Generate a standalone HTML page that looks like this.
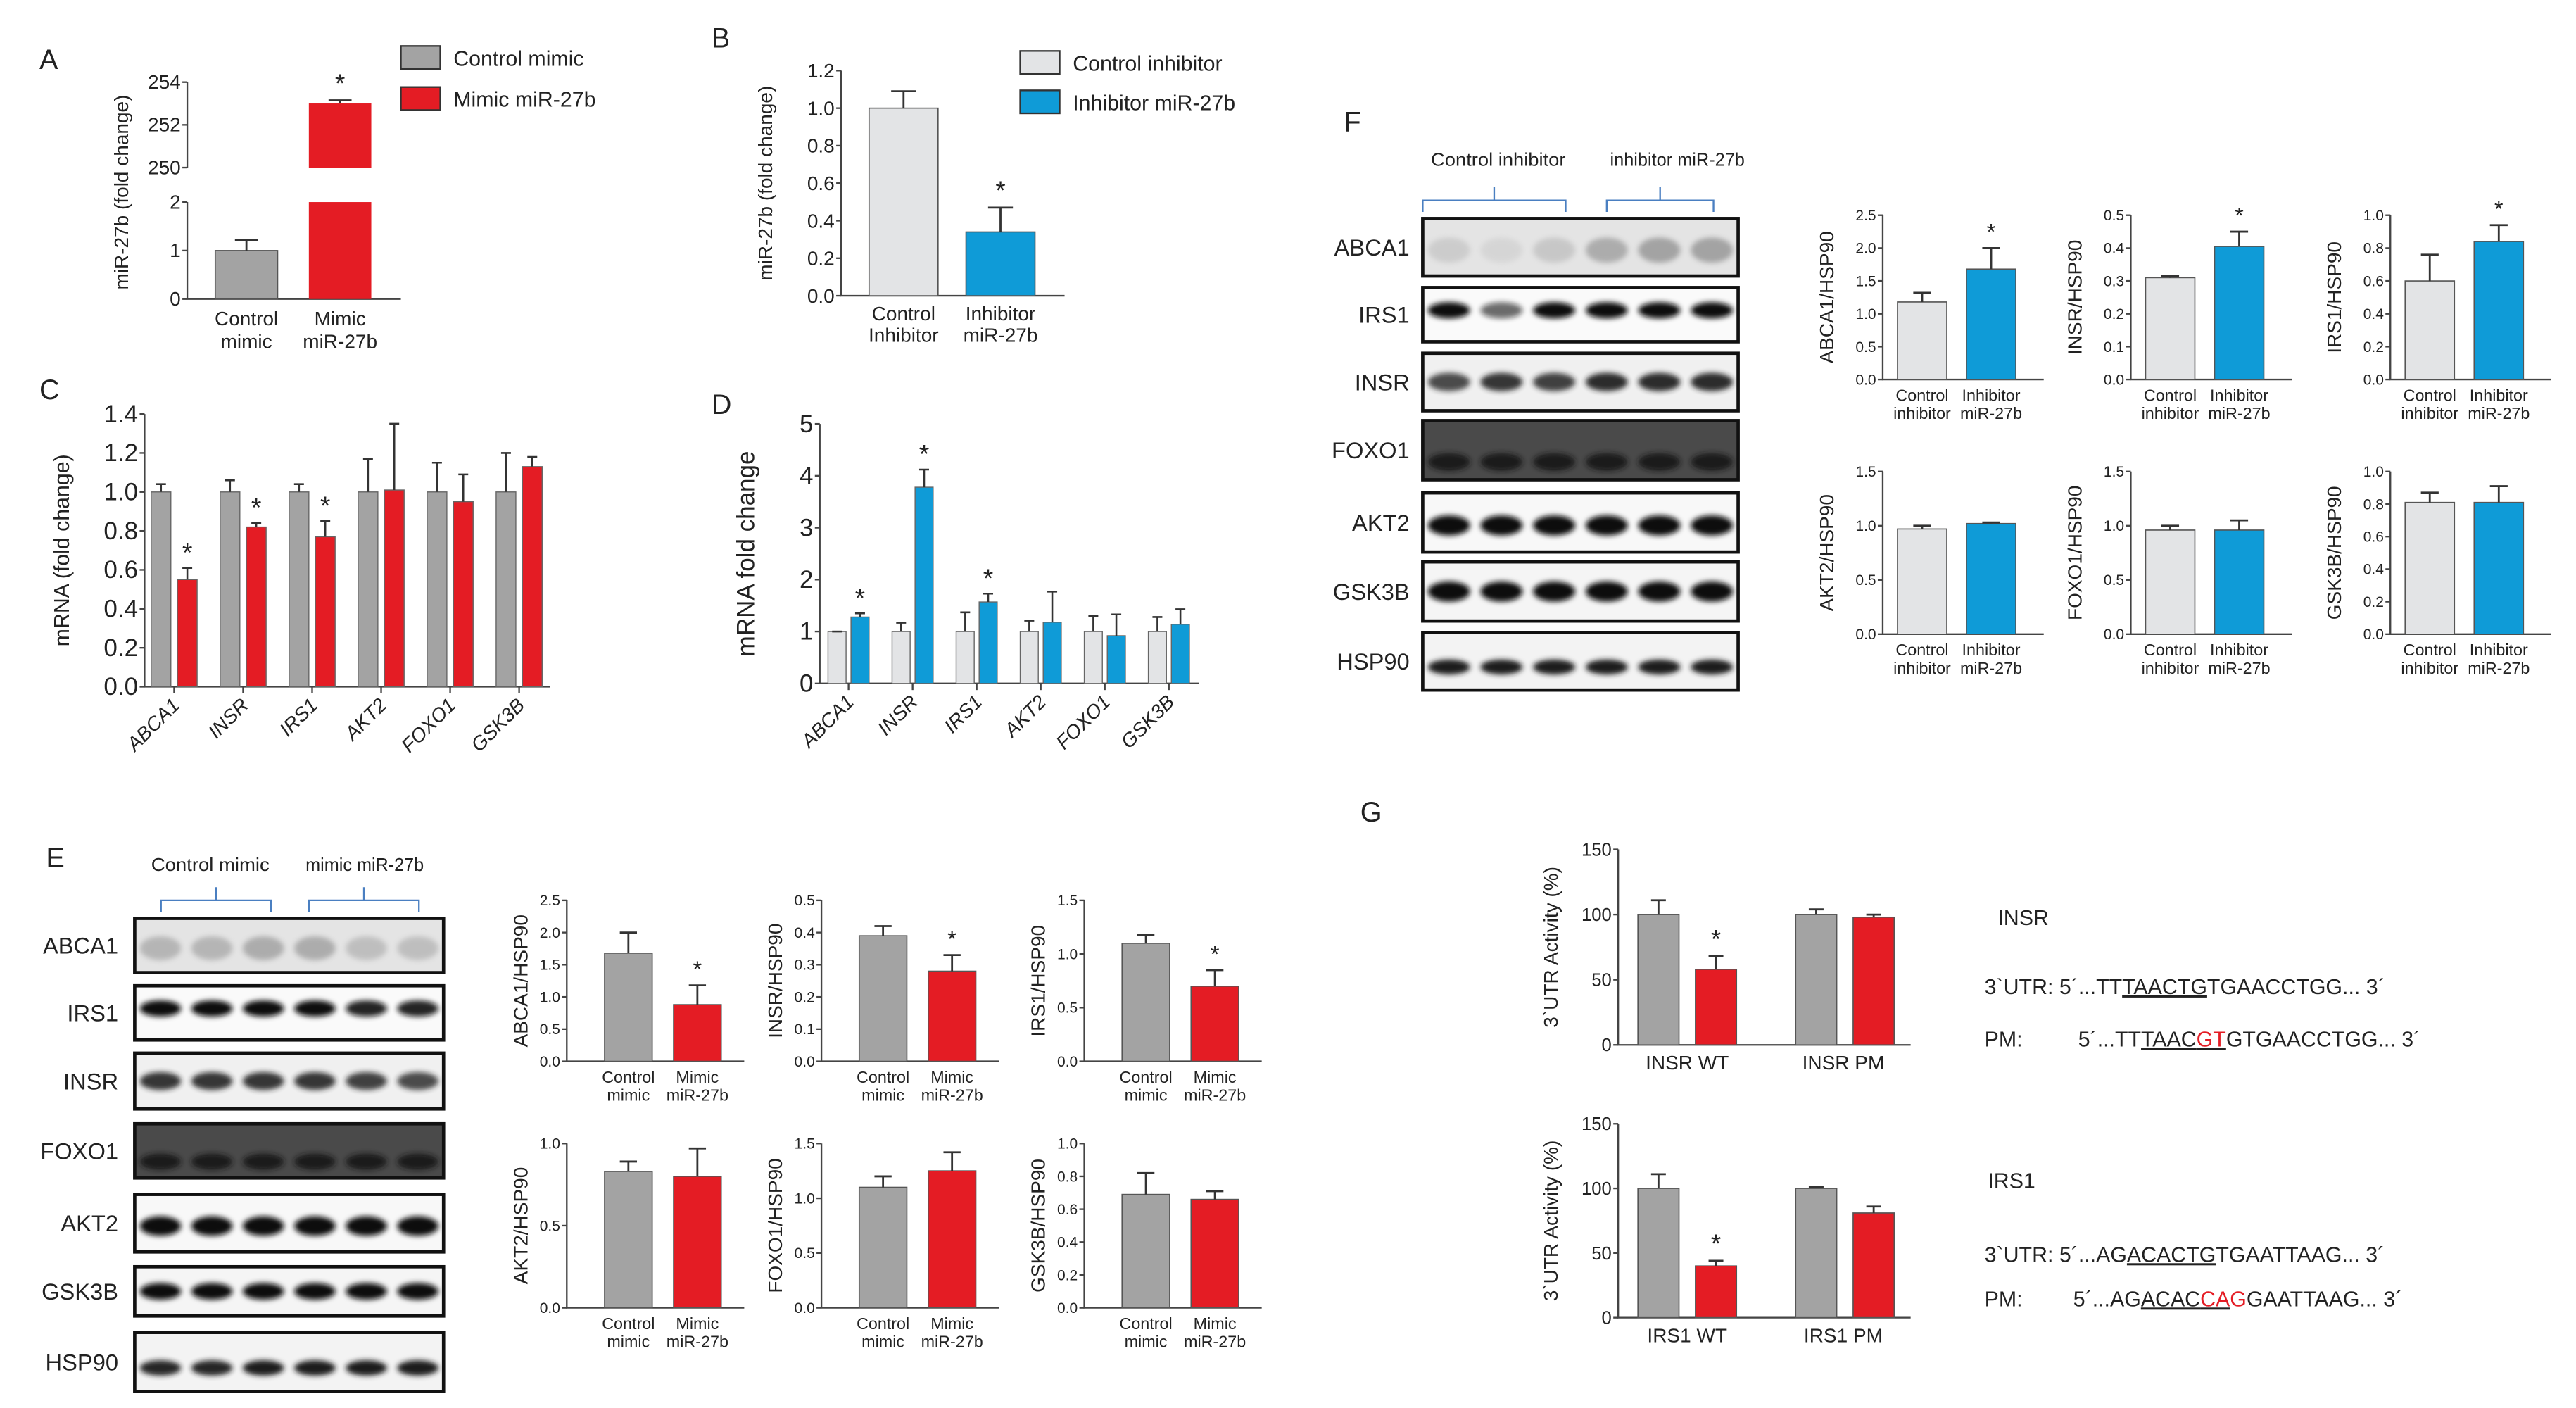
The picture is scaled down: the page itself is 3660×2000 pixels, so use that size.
<!DOCTYPE html>
<html><head><meta charset="utf-8"><style>
html,body{margin:0;padding:0;background:#fff}
svg{display:block}
text{font-family:"Liberation Sans",Arial,sans-serif;fill:#222}
</style></head><body>
<svg id="fig" xmlns="http://www.w3.org/2000/svg" width="3660" height="2000" viewBox="0 0 1568 857" preserveAspectRatio="none">
<defs>
<filter id="blur1" x="-20%" y="-50%" width="140%" height="200%"><feGaussianBlur stdDeviation="1.6"/></filter>
</defs>
</svg>
<script>
// ---------- DATA ----------
const aCats=["Control mimic","Mimic miR-27b"];
const aVals=[1,253];
const aErrs=[1.22,253.15];
const bVals=[1.0,0.34];
const bErrs=[1.09,0.47];
const cGenes=["ABCA1","INSR","IRS1","AKT2","FOXO1","GSK3B"];
const cCtrl=[1,1,1,1,1,1];
const cCtrlErr=[1.04,1.06,1.04,1.17,1.15,1.2];
const cMimic=[0.55,0.82,0.77,1.01,0.95,1.13];
const cMimicErr=[0.61,0.84,0.85,1.35,1.09,1.18];
const cStar=[true,true,true,false,false,false];
const cTicks=[0,0.2,0.4,0.6,0.8,1.0,1.2,1.4];
const dCtrl=[1,1,1,1,1,1];
const dCtrlErr=[1,1.17,1.37,1.21,1.3,1.28];
const dInh=[1.28,3.78,1.57,1.18,0.92,1.14];
const dInhErr=[1.35,4.12,1.73,1.77,1.33,1.43];
const dStar=[true,true,true,false,false,false];
const dTicks=[0,1,2,3,4,5];
const eNames=["ABCA1","INSR","IRS1","AKT2","FOXO1","GSK3B"];
const eCtrl=[1.68,0.39,1.1,0.83,1.1,0.69];
const eCtrlErr=[2.0,0.42,1.18,0.89,1.2,0.82];
const eMimic=[0.88,0.28,0.7,0.8,1.25,0.66];
const eMimicErr=[1.18,0.33,0.85,0.97,1.42,0.71];
const eStar=[true,true,true,false,false,false];
const eMax=[2.5,0.5,1.5,1.0,1.5,1.0];
const eTickStep=[0.5,0.1,0.5,0.5,0.5,0.2];
const fNames=["ABCA1","INSR","IRS1","AKT2","FOXO1","GSK3B"];
const fCtrl=[1.18,0.31,0.6,0.97,0.96,0.81];
const fCtrlErr=[1.32,0.315,0.76,1.0,1.0,0.87];
const fInh=[1.68,0.405,0.84,1.02,0.96,0.81];
const fInhErr=[2.0,0.45,0.94,1.03,1.05,0.91];
const fStar=[true,true,true,false,false,false];
const fMax=[2.5,0.5,1.0,1.5,1.5,1.0];
const fTickStep=[0.5,0.1,0.2,0.5,0.5,0.2];
const gCats=[["INSR WT","INSR PM"],["IRS1 WT","IRS1 PM"]];
const gCtrl=[[100,100],[100,100]];
const gCtrlErr=[[111,104],[111,101]];
const gMut=[[58,98],[40,81]];
const gMutErr=[[68,100],[44,86]];
const gStar=[[true,false],[true,false]];
const gTicks=[0,50,100,150];

const GREY="#a3a3a3",RED="#e41c24",LIGHT="#e3e4e6",BLUE="#0f9bd7";
const svg=document.getElementById('fig');
const NS="http://www.w3.org/2000/svg";
function mk(tag,attrs,parent){const e=document.createElementNS(NS,tag);for(const k in attrs)e.setAttribute(k,attrs[k]);(parent||svg).appendChild(e);return e;}
function txt(s,x,y,size,anchor,parent,extra){const t=mk('text',Object.assign({x:x,y:y,'font-size':size,'text-anchor':anchor||'start'},extra||{}),parent);t.textContent=s;return t;}

[["A",24,42],["B",433,29],["C",24,243],["D",433,252],["E",28,528],["F",818,80],["G",828,500]].forEach(p=>{
  const t=txt(p[0],p[1],p[2],17,'start');
  
  
});

function mini(o){
  const g=mk('g',{});
  
  
  const Y=v=>o.y0-(v/o.max)*(o.y0-o.yTop);
  const ax=mk('path',{d:`M${o.ax},${o.yTop} V${o.y0} H${o.axEnd}`,stroke:'#444','stroke-width':1,fill:'none'},g);
  
  
  o.ticks.forEach(tv=>{
    mk('line',{x1:o.ax-3,x2:o.ax,y1:Y(tv),y2:Y(tv),stroke:'#444','stroke-width':1},g);
    const t=txt(o.tickFmt(tv),o.ax-4,Y(tv)+o.tfs*0.35,o.tfs,'end',g,{fill:'#555'});
    
    
  });
  o.bars.forEach((b,i)=>{
    const r=mk('rect',{x:b.x,y:Y(b.v),width:o.bw,height:o.y0-Y(b.v),fill:b.c,stroke:'#555','stroke-width':0.7},g);
    
    
    const cx=b.x+o.bw/2;
    mk('path',{d:`M${cx},${Y(b.v)} V${Y(b.e)} M${cx-o.bw*0.18},${Y(b.e)} H${cx+o.bw*0.18}`,stroke:'#333','stroke-width':1.2,fill:'none'},g);
    if(b.star){const s=txt('*',cx,Y(b.e)-5,o.starSize||14,'middle',g);}
    if(b.l1!==undefined){txt(b.l1,cx,o.y0+o.lfs+3,o.lfs,'middle',g);txt(b.l2,cx,o.y0+o.lfs*2+4,o.lfs,'middle',g);}
  });
  if(o.title){const t=txt(o.title,0,0,o.titleSize,'middle',g,{transform:`translate(${o.ax-o.titleOff},${(o.y0+o.yTop)/2}) rotate(-90)`});}
  return g;
}

// Panel A
(function(){
  const g=mk('g',{});
  const ax=114, y0=182, lowTop=123, upBase=102, upTop=50;
  const YL=v=>y0-v/2*(y0-lowTop);
  const YU=v=>upBase-(v-250)/4*(upBase-upTop);
  mk('path',{d:`M${ax},${lowTop} V${y0} H244 M${ax},${upTop} V${upBase}`,stroke:'#444',fill:'none','stroke-width':1},g);
  [[0,YL(0)],[1,YL(1)],[2,YL(2)],[250,YU(250)],[252,YU(252)],[254,YU(254)]].forEach(t=>{
    mk('line',{x1:ax-3,x2:ax,y1:t[1],y2:t[1],stroke:'#444'},g);
    txt(String(t[0]),ax-4,t[1]+4,12,'end',g);
  });
  const c=mk('rect',{x:131,y:YL(aVals[0]),width:38,height:y0-YL(aVals[0]),fill:GREY,stroke:'#555','stroke-width':0.7},g);
  
  mk('path',{d:`M150,${YL(aVals[0])} V${YL(aErrs[0])} M143,${YL(aErrs[0])} H157`,stroke:'#333','stroke-width':1.2,fill:'none'},g);
  const r1=mk('rect',{x:188,y:lowTop,width:38,height:y0-lowTop,fill:RED},g);
  
  const r2=mk('rect',{x:188,y:YU(aVals[1]),width:38,height:upBase-YU(aVals[1]),fill:RED},g);
  
  mk('path',{d:`M207,${YU(aVals[1])} V${YU(aErrs[1])} M200,${YU(aErrs[1])} H214`,stroke:'#333','stroke-width':1.2,fill:'none'},g);
  txt('*',207,YU(aErrs[1])-5,16,'middle',g);
  txt('Control',150,198,12,'middle',g);txt('mimic',150,212,12,'middle',g);
  txt('Mimic',207,198,12,'middle',g);txt('miR-27b',207,212,12,'middle',g);
  txt('miR-27b (fold change)',0,0,12,'middle',g,{transform:'translate(78,117) rotate(-90)'});
  const l=mk('g',{},g);
  mk('rect',{x:244,y:28,width:24,height:14,fill:GREY,stroke:'#333'},l);txt(aCats[0],276,40,13,'start',l);
  mk('rect',{x:244,y:53,width:24,height:14,fill:RED,stroke:'#333'},l);txt(aCats[1],276,65,13,'start',l);
})();

// Panel B
mini({name:'panel-b-chart',ax:512,axEnd:648,y0:180,yTop:43,max:1.2,ticks:[0,0.2,0.4,0.6,0.8,1.0,1.2],tickFmt:v=>v.toFixed(1),tfs:12,
  bw:42,lfs:12,titleOff:42,title:'miR-27b (fold change)',titleSize:12,starSize:16,
  bars:[{x:529,v:bVals[0],e:bErrs[0],c:LIGHT,l1:'Control',l2:'Inhibitor'},{x:588,v:bVals[1],e:bErrs[1],c:BLUE,star:true,l1:'Inhibitor',l2:'miR-27b'}]});
(function(){const l=mk('g',{});
  mk('rect',{x:621,y:31,width:24,height:14,fill:LIGHT,stroke:'#333'},l);txt('Control inhibitor',653,43,13,'start',l);
  mk('rect',{x:621,y:55,width:24,height:14,fill:BLUE,stroke:'#333'},l);txt('Inhibitor miR-27b',653,67,13,'start',l);})();

function grouped(o){
  const g=mk('g',{});
  const Y=v=>o.y0-(v/o.max)*(o.y0-o.yTop);
  mk('path',{d:`M${o.ax},${o.yTop} V${o.y0} H${o.axEnd}`,stroke:'#444',fill:'none'},g);
  o.ticks.forEach(tv=>{mk('line',{x1:o.ax-3,x2:o.ax,y1:Y(tv),y2:Y(tv),stroke:'#444'},g);txt(o.fmt(tv),o.ax-4,Y(tv)+5,o.tfs,'end',g);});
  o.cats.forEach((cat,i)=>{
    const x0=o.x0+i*o.gap;
    [[o.a,o.ae,o.ca,0],[o.b,o.be,o.cb,1]].forEach(s=>{
      const x=x0+s[3]*(o.bw+o.inner);
      const r=mk('rect',{x:x,y:Y(s[0][i]),width:o.bw,height:o.y0-Y(s[0][i]),fill:s[2],stroke:'#666','stroke-width':0.6},g);
      
      
      const cx=x+o.bw/2;
      mk('path',{d:`M${cx},${Y(s[0][i])} V${Y(s[1][i])} M${cx-3},${Y(s[1][i])} H${cx+3}`,stroke:'#333','stroke-width':1.1,fill:'none'},g);
      if(s[3]===1&&o.star[i]){txt('*',cx,Y(s[1][i])-4,16,'middle',g);}
    });
    const tx=x0+o.bw+o.inner/2;
    mk('line',{x1:tx,x2:tx,y1:o.y0,y2:o.y0+4,stroke:'#444'},g);
    const t=txt(cat,0,0,12,'end',g,{transform:`translate(${tx+4},${o.y0+12}) rotate(-45)`,'font-style':'italic'});
    
  });
  txt(o.title,0,0,o.titleSize,'middle',g,{transform:`translate(${o.ax-o.titleOff},${(o.y0+o.yTop)/2}) rotate(-90)`});
}
grouped({name:'panel-c-chart',ax:88,axEnd:335,y0:418,yTop:252,max:1.4,ticks:cTicks,fmt:v=>v.toFixed(1),tfs:15,
  cats:cGenes,a:cCtrl,ae:cCtrlErr,b:cMimic,be:cMimicErr,ca:GREY,cb:RED,star:cStar,x0:92,gap:42,bw:12,inner:4,title:'mRNA (fold change)',titleSize:13,titleOff:46});
grouped({name:'panel-d-chart',ax:499,axEnd:730,y0:416,yTop:258,max:5,ticks:dTicks,fmt:v=>String(v),tfs:15,
  cats:cGenes,a:dCtrl,ae:dCtrlErr,b:dInh,be:dInhErr,ca:LIGHT,cb:BLUE,star:dStar,x0:504,gap:39,bw:11,inner:3,title:'mRNA fold change',titleSize:15,titleOff:40});

function blot(o){
  const g=mk('g',{});
  txt(o.h1,o.h1x,o.hy,11,'middle',g,{'textLength':o.hw,'lengthAdjust':'spacingAndGlyphs'});
  txt(o.h2,o.h2x,o.hy,11,'middle',g,{'textLength':o.hw,'lengthAdjust':'spacingAndGlyphs'});
  o.br.forEach(b=>{const m=(b[0]+b[1])/2;mk('path',{d:`M${b[0]},${o.by+10} V${o.by+3} H${m} V${o.by-5} M${m},${o.by+3} H${b[1]} V${o.by+10}`,stroke:'#4a7fc1',fill:'none','stroke-width':1},g);});
  o.rows.forEach((r,ri)=>{
    const rg=mk('g',{},g);
    const h=r.y1-r.y0;
    mk('rect',{x:o.x0,y:r.y0,width:o.x1-o.x0,height:h,fill:r.bg,stroke:'#111','stroke-width':2},rg);
    const lw=(o.x1-o.x0)/6;
    for(let i=0;i<6;i++){
      const cx=o.x0+lw*(i+0.5);
      mk('ellipse',{cx:cx,cy:r.y0+h*r.by,rx:lw*0.4,ry:h*r.bh,fill:r.band,opacity:r.op[i],filter:'url(#blur1)'},rg);
    }
    txt(r.n,o.lx,r.y0+h/2+5,14,'end',rg);
  });
}
const rowsE=[[559,592],[600,633],[641,675],[684,717],[727,762],[771,801],[811,847]];
const rowsF=[[133,168],[175,208],[215,250],[256,292],[300,336],[342,378],[385,420]];
const bandStyle=[
 {n:'ABCA1',bg:'#e4e4e4',band:'#888',by:0.55,bh:0.22},
 {n:'IRS1',bg:'#fafafa',band:'#111',by:0.42,bh:0.15},
 {n:'INSR',bg:'#f0f0f0',band:'#222',by:0.5,bh:0.16},
 {n:'FOXO1',bg:'#4a4a4a',band:'#151515',by:0.7,bh:0.15},
 {n:'AKT2',bg:'#f8f8f8',band:'#111',by:0.55,bh:0.17},
 {n:'GSK3B',bg:'#f5f5f5',band:'#111',by:0.5,bh:0.17},
 {n:'HSP90',bg:'#f3f3f3',band:'#1a1a1a',by:0.6,bh:0.13}];
const opE=[[0.5,0.5,0.6,0.6,0.4,0.4],[1,1,1,1,0.9,0.9],[0.9,0.9,0.9,0.9,0.85,0.8],[0.9,0.9,0.9,0.9,0.9,0.9],[1,1,1,1,1,1],[1,1,1,1,1,1],[0.95,0.95,1,1,1,1]];
const opF=[[0.25,0.15,0.3,0.6,0.7,0.7],[1,0.6,1,1,1,1],[0.8,0.9,0.85,0.95,0.95,0.95],[0.9,0.9,0.9,0.9,0.9,0.9],[1,1,1,1,1,1],[1,1,1,1,1,1],[1,1,1,1,1,1]];
blot({name:'panel-e-blot',x0:82,x1:270,lx:72,h1:'Control mimic',h2:'mimic miR-27b',h1x:128,h2x:222,hy:530,hw:72,by:545,br:[[98,165],[188,255]],
  rows:rowsE.map((r,i)=>Object.assign({y0:r[0],y1:r[1],op:opE[i]},bandStyle[i]))});
blot({name:'panel-f-blot',x0:866,x1:1058,lx:858,h1:'Control inhibitor',h2:'inhibitor miR-27b',h1x:912,h2x:1021,hy:101,hw:82,by:119,br:[[866,953],[978,1043]],
  rows:rowsF.map((r,i)=>Object.assign({y0:r[0],y1:r[1],op:opF[i]},bandStyle[i]))});

function ticksFor(max,step){const a=[];for(let v=0;v<=max+1e-9;v+=step)a.push(+v.toFixed(2));return a;}
const eAx=[345,500,660], eRows=[[646,548],[796,696]];
eNames.forEach((n,i)=>{
  const c=i%3, r=Math.floor(i/3), ax=eAx[c];
  mini({name:'panel-e-'+n.toLowerCase()+'-chart',ax:ax,axEnd:ax+108,y0:eRows[r][0],yTop:eRows[r][1],max:eMax[i],ticks:ticksFor(eMax[i],eTickStep[i]),tickFmt:v=>v.toFixed(1),tfs:9,
    bw:29,lfs:10,title:n+'/HSP90',titleSize:12,titleOff:24,
    bars:[{x:ax+23,v:eCtrl[i],e:eCtrlErr[i],c:GREY,l1:'Control',l2:'mimic'},{x:ax+65,v:eMimic[i],e:eMimicErr[i],c:RED,star:eStar[i],l1:'Mimic',l2:'miR-27b'}]});
});
const fAx=[1146,1297,1455], fRows=[[231,131],[386,287]];
fNames.forEach((n,i)=>{
  const c=i%3, r=Math.floor(i/3), ax=fAx[c];
  mini({name:'panel-f-'+n.toLowerCase()+'-chart',ax:ax,axEnd:ax+98,y0:fRows[r][0],yTop:fRows[r][1],max:fMax[i],ticks:ticksFor(fMax[i],fTickStep[i]),tickFmt:v=>v.toFixed(1),tfs:9,
    bw:30,lfs:10,title:n+'/HSP90',titleSize:12,titleOff:30,
    bars:[{x:ax+9,v:fCtrl[i],e:fCtrlErr[i],c:LIGHT,l1:'Control',l2:'inhibitor'},{x:ax+51,v:fInh[i],e:fInhErr[i],c:BLUE,star:fStar[i],l1:'Inhibitor',l2:'miR-27b'}]});
});

const gRows=[[636,517],[802,684]];
gCats.forEach((cats,k)=>{
  const g=mini({name:'panel-g-chart-'+(k+1),ax:985,axEnd:1163,y0:gRows[k][0],yTop:gRows[k][1],max:150,ticks:gTicks,tickFmt:v=>String(v),tfs:11,
    bw:25,lfs:12,title:'3`UTR Activity (%)',titleSize:12,titleOff:37,starSize:16,
    bars:[{x:997,v:gCtrl[k][0],e:gCtrlErr[k][0],c:GREY},{x:1032,v:gMut[k][0],e:gMutErr[k][0],c:RED,star:gStar[k][0]},
          {x:1093,v:gCtrl[k][1],e:gCtrlErr[k][1],c:GREY},{x:1128,v:gMut[k][1],e:gMutErr[k][1],c:RED,star:gStar[k][1]}]});
  txt(cats[0],1027,gRows[k][0]+15,12,'middle',g);
  txt(cats[1],1122,gRows[k][0]+15,12,'middle',g);
});
</script>
<svg style="position:absolute;left:0;top:0" width="3660" height="2000" viewBox="0 0 1568 857" preserveAspectRatio="none">
<g font-family="Liberation Sans, Arial, sans-serif" font-size="13" fill="#333">
<text x="1216" y="563">INSR</text>
<text x="1208" y="605">3`UTR: 5´...TT<tspan text-decoration="underline">TAACTG</tspan>TGAACCTGG... 3´</text>
<text x="1208" y="637">PM:<tspan x="1265">5´...TT</tspan><tspan text-decoration="underline">TAAC<tspan fill="#e41c24">GT</tspan></tspan>GTGAACCTGG... 3´</text>
<text x="1210" y="723">IRS1</text>
<text x="1208" y="768">3`UTR: 5´...AG<tspan text-decoration="underline">ACACTG</tspan>TGAATTAAG... 3´</text>
<text x="1208" y="795">PM:<tspan x="1262">5´...AG</tspan><tspan text-decoration="underline">ACAC<tspan fill="#e41c24">CA</tspan></tspan><tspan fill="#e41c24">G</tspan>GAATTAAG... 3´</text>
</g>
</svg>
</body></html>
